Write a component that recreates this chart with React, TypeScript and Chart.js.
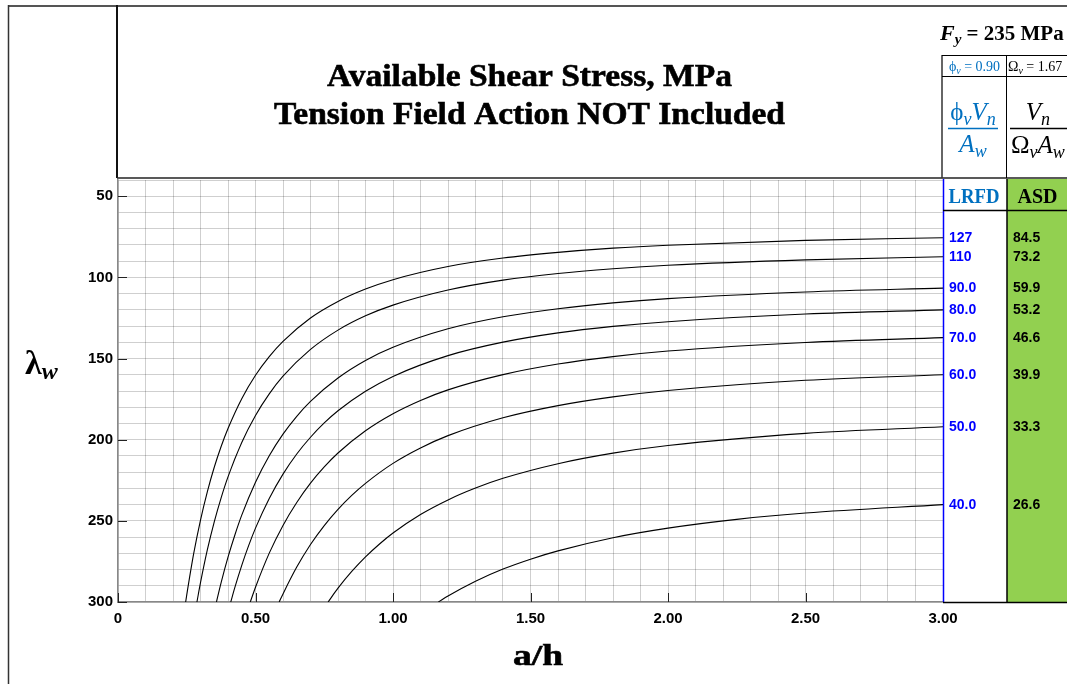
import React, { useEffect, useRef } from 'react';
import { Chart, registerables } from 'chart.js';

Chart.register(...registerables);

// ---- Data (a/h vs web slenderness λw) ----
const ratio127 = [0.246, 0.25, 0.275, 0.3, 0.325, 0.35, 0.375, 0.4, 0.45, 0.5, 0.55, 0.6, 0.7, 0.8, 0.9, 1.0, 1.2, 1.4, 1.6, 1.8, 2.0, 2.5, 3.0];
const lambda127 = [300, 295.6, 270.4, 249.5, 232.0, 217.0, 204.2, 193.1, 174.7, 160.3, 148.8, 139.4, 125.0, 114.8, 107.2, 101.4, 93.3, 88.1, 84.6, 82.0, 80.2, 77.2, 75.6];

const ratio110 = [0.287, 0.3, 0.325, 0.35, 0.375, 0.4, 0.45, 0.5, 0.55, 0.6, 0.7, 0.8, 0.9, 1.0, 1.2, 1.4, 1.6, 1.8, 2.0, 2.5, 3.0];
const lambda110 = [300, 288.1, 267.8, 250.6, 235.8, 222.9, 201.7, 185.1, 171.8, 160.9, 144.4, 132.5, 123.7, 117.1, 107.8, 101.7, 97.6, 94.7, 92.5, 89.2, 87.3];

const ratio90 = [0.358, 0.375, 0.4, 0.425, 0.45, 0.5, 0.55, 0.6, 0.65, 0.7, 0.8, 0.9, 1.0, 1.2, 1.4, 1.6, 1.8, 2.0, 2.5, 3.0];
const lambda90 = [300, 288.1, 272.4, 258.7, 246.5, 226.2, 209.9, 196.6, 185.6, 176.4, 162.0, 151.2, 143.1, 131.7, 124.3, 119.3, 115.7, 113.1, 109.0, 106.6];

const ratio80 = [0.41, 0.425, 0.45, 0.475, 0.5, 0.55, 0.6, 0.65, 0.7, 0.75, 0.8, 0.9, 1.0, 1.2, 1.4, 1.6, 1.8, 2.0, 2.5, 3.0];
const lambda80 = [300, 291.0, 277.4, 265.3, 254.5, 236.2, 221.2, 208.8, 198.5, 189.7, 182.2, 170.2, 161.0, 148.2, 139.9, 134.2, 130.2, 127.3, 122.6, 120.0];

const ratio70 = [0.481, 0.5, 0.55, 0.6, 0.65, 0.7, 0.75, 0.8, 0.9, 1.0, 1.1, 1.2, 1.4, 1.6, 1.8, 2.0, 2.5, 3.0];
const lambda70 = [300, 290.9, 269.9, 252.8, 238.7, 226.8, 216.8, 208.2, 194.5, 184.0, 175.8, 169.3, 159.9, 153.4, 148.8, 145.4, 140.1, 137.1];

const ratio60 = [0.586, 0.6, 0.65, 0.7, 0.75, 0.8, 0.85, 0.9, 1.0, 1.1, 1.2, 1.4, 1.6, 1.8, 2.0, 2.5, 3.0];
const lambda60 = [300, 295.0, 278.5, 264.6, 252.9, 242.9, 234.3, 226.9, 214.6, 205.1, 197.5, 186.5, 179.0, 173.6, 169.7, 163.4, 160.0];

const ratio50 = [0.764, 0.8, 0.85, 0.9, 0.95, 1.0, 1.1, 1.2, 1.3, 1.4, 1.6, 1.8, 2.0, 2.5, 3.0];
const lambda50 = [300, 291.5, 281.2, 272.2, 264.4, 257.5, 246.1, 237.1, 229.8, 223.8, 214.8, 208.3, 203.6, 196.1, 192.0];

const ratio40 = [1.165, 1.2, 1.3, 1.4, 1.5, 1.6, 1.8, 2.0, 2.25, 2.5, 3.0];
const lambda40 = [300, 296.3, 287.2, 279.7, 273.6, 268.5, 260.4, 254.5, 249.1, 245.2, 240.0];

const curveRatios = [ratio127, ratio110, ratio90, ratio80, ratio70, ratio60, ratio50, ratio40];
const curveLambdas = [lambda127, lambda110, lambda90, lambda80, lambda70, lambda60, lambda50, lambda40];

const lrfdLabels = ['127', '110', '90.0', '80.0', '70.0', '60.0', '50.0', '40.0'];
const asdLabels = ['84.5', '73.2', '59.9', '53.2', '46.6', '39.9', '33.3', '26.6'];

const xMin = 0;
const xMax = 3;
const xStep = 0.1;
const yMin = 40;
const yMax = 300;
const yStep = 10;

const titleLine1 = 'Available Shear Stress, MPa';
const titleLine2 = 'Tension Field Action NOT Included';

// ---- Styles ----
const SERIF = '"Liberation Serif", "DejaVu Serif", serif';
const SANS = '"Liberation Sans", Arial, sans-serif';
const GRID = 'rgba(0,0,0,0.19)';
const BLUE_HDR = '#0070C0';
const BLUE_VAL = '#0000FF';
const GREEN = '#92D050';

type Run = { t: string; f: string; dy?: number };

function runsWidth(ctx: CanvasRenderingContext2D, runs: Run[]) {
  let w = 0;
  for (const r of runs) {
    ctx.font = r.f;
    w += ctx.measureText(r.t).width;
  }
  return w;
}

function drawRuns(ctx: CanvasRenderingContext2D, runs: Run[], x: number, y: number, color: string) {
  ctx.fillStyle = color;
  ctx.textAlign = 'left';
  ctx.textBaseline = 'alphabetic';
  let cx = x;
  for (const r of runs) {
    ctx.font = r.f;
    ctx.fillText(r.t, cx, y + (r.dy || 0));
    cx += ctx.measureText(r.t).width;
  }
}

function drawRunsCentered(ctx: CanvasRenderingContext2D, runs: Run[], cx: number, y: number, color: string) {
  const w = runsWidth(ctx, runs);
  drawRuns(ctx, runs, cx - w / 2, y, color);
}

function fitText(ctx: CanvasRenderingContext2D, text: string, font: string, cx: number, y: number, targetW: number) {
  ctx.font = font;
  const w = ctx.measureText(text).width;
  const sx = targetW / w;
  ctx.save();
  ctx.translate(cx, y);
  ctx.scale(sx, 1);
  ctx.textAlign = 'center';
  ctx.textBaseline = 'alphabetic';
  ctx.fillStyle = '#000';
  ctx.fillText(text, 0, 0);
  ctx.lineWidth = 0.6;
  ctx.strokeStyle = '#000';
  ctx.strokeText(text, 0, 0);
  ctx.restore();
}

function line(ctx: CanvasRenderingContext2D, x1: number, y1: number, x2: number, y2: number, color: string, w: number) {
  ctx.beginPath();
  ctx.strokeStyle = color;
  ctx.lineWidth = w;
  ctx.moveTo(x1, y1);
  ctx.lineTo(x2, y2);
  ctx.stroke();
}

const decorPlugin = {
  id: 'decor',
  afterDraw(chart: any) {
    const ctx: CanvasRenderingContext2D = chart.ctx;
    const xs = chart.scales.x;
    const ys = chart.scales.y;
    const area = chart.chartArea;
    const W = chart.width;
    ctx.save();

    // inward tick marks at labelled values
    for (const t of ys.ticks) {
      if (Math.abs(t.value % 50) < 1e-6) {
        const py = Math.round(ys.getPixelForValue(t.value)) + 0.5;
        line(ctx, area.left, py, area.left + 9, py, '#222', 1);
      }
    }
    for (const t of xs.ticks) {
      const v = Math.round(t.value * 100) / 100;
      if (Math.abs(v * 2 - Math.round(v * 2)) < 1e-6) {
        const px = Math.round(xs.getPixelForValue(t.value)) + 0.5;
        line(ctx, px, area.bottom, px, area.bottom - 9, '#222', 1);
      }
    }

    // outer frame
    line(ctx, 8, 6, W, 6, '#555', 2);
    line(ctx, 8.5, 5, 8.5, chart.height, '#333', 1.5);
    // title box
    line(ctx, 117, 5, 117, 178, '#111', 2);
    line(ctx, 117, 178, W, 178, '#222', 1.5);
    line(ctx, 942, 55, 942, 178, '#333', 1.5);

    // title
    fitText(ctx, titleLine1, `bold 32px ${SERIF}`, 529.5, 86, 405);
    fitText(ctx, titleLine2, `bold 32px ${SERIF}`, 529.5, 124, 511);

    // Fy line
    drawRuns(ctx, [
      { t: 'F', f: `italic bold 22px ${SERIF}` },
      { t: 'y', f: `italic bold 15px ${SERIF}`, dy: 4 },
      { t: ' = 235 MPa', f: `bold 21px ${SERIF}` },
    ], 940, 40, '#000');

    // table top rows
    line(ctx, 942, 55.5, W, 55.5, '#000', 1);
    line(ctx, 942, 76.5, W, 76.5, '#000', 1);
    line(ctx, 1006.5, 55, 1006.5, 178, '#000', 1);

    drawRunsCentered(ctx, [
      { t: 'ϕ', f: `14px ${SERIF}` },
      { t: 'v', f: `italic 10px ${SERIF}`, dy: 3 },
      { t: ' = 0.90', f: `14px ${SERIF}` },
    ], 974.5, 71, BLUE_HDR);
    drawRuns(ctx, [
      { t: 'Ω', f: `14px ${SERIF}` },
      { t: 'v', f: `italic 10px ${SERIF}`, dy: 3 },
      { t: ' = 1.67', f: `14px ${SERIF}` },
    ], 1008, 71, '#000');

    // LRFD fraction
    drawRunsCentered(ctx, [
      { t: 'ϕ', f: `25px ${SERIF}` },
      { t: 'v', f: `italic 18px ${SERIF}`, dy: 5 },
      { t: 'V', f: `italic 25px ${SERIF}` },
      { t: 'n', f: `italic 18px ${SERIF}`, dy: 5 },
    ], 973, 120, BLUE_HDR);
    line(ctx, 948, 128.5, 998, 128.5, BLUE_HDR, 1.5);
    drawRunsCentered(ctx, [
      { t: 'A', f: `italic 25px ${SERIF}` },
      { t: 'w', f: `italic 18px ${SERIF}`, dy: 5 },
    ], 973, 152, BLUE_HDR);

    // ASD fraction
    const asdDen: Run[] = [
      { t: 'Ω', f: `25px ${SERIF}` },
      { t: 'v', f: `italic 18px ${SERIF}`, dy: 5 },
      { t: 'A', f: `italic 25px ${SERIF}` },
      { t: 'w', f: `italic 18px ${SERIF}`, dy: 5 },
    ];
    const dw = runsWidth(ctx, asdDen);
    drawRuns(ctx, asdDen, 1011, 153, '#000');
    drawRunsCentered(ctx, [
      { t: 'V', f: `italic 25px ${SERIF}` },
      { t: 'n', f: `italic 18px ${SERIF}`, dy: 5 },
    ], 1011 + dw / 2, 120, '#000');
    line(ctx, 1010, 128.5, W, 128.5, '#000', 1.5);

    // LRFD / ASD column
    ctx.fillStyle = GREEN;
    ctx.fillRect(1007, 179, W - 1007, area.bottom - 179);
    line(ctx, 943.5, 179, 943.5, area.bottom, '#0000FF', 1.5);
    line(ctx, 1007, 179, 1007, area.bottom, '#000', 1.5);
    line(ctx, 943, 210.5, W, 210.5, '#000', 1.5);
    line(ctx, 943, area.bottom + 0.5, W, area.bottom + 0.5, '#000', 1.5);

    ctx.textAlign = 'center';
    ctx.textBaseline = 'alphabetic';
    ctx.font = `bold 21px ${SERIF}`;
    ctx.fillStyle = BLUE_HDR;
    ctx.fillText('LRFD', 974, 203, 51);
    ctx.fillStyle = '#000';
    ctx.fillText('ASD', 1037.5, 203, 40);

    ctx.textAlign = 'left';
    ctx.textBaseline = 'middle';
    ctx.font = `bold 14px ${SANS}`;
    curveLambdas.forEach((lam, i) => {
      const py = ys.getPixelForValue(lam[lam.length - 1]);
      ctx.fillStyle = BLUE_VAL;
      ctx.fillText(lrfdLabels[i], 949, py + 0.5);
      ctx.fillStyle = '#000';
      ctx.fillText(asdLabels[i], 1013, py + 0.5);
    });

    // axis titles
    drawRuns(ctx, [
      { t: 'λ', f: `bold 34px ${SERIF}` },
      { t: 'w', f: `italic bold 24px ${SERIF}`, dy: 5 },
    ], 25, 374, '#000');
    fitText(ctx, 'a/h', `bold 30px ${SERIF}`, 538, 665, 50);

    ctx.restore();
  },
};

export default function App() {
  const canvasRef = useRef<HTMLCanvasElement | null>(null);

  useEffect(() => {
    if (!canvasRef.current) return;
    const datasets = curveRatios.map((rs, i) => ({
      label: lrfdLabels[i],
      data: rs.map((x, j) => ({ x, y: curveLambdas[i][j] })),
      borderColor: '#000',
      borderWidth: 1.1,
      pointRadius: 0,
      fill: false,
      cubicInterpolationMode: 'monotone' as const,
    }));

    const chart = new Chart(canvasRef.current, {
      type: 'line',
      data: { datasets },
      plugins: [decorPlugin],
      options: {
        responsive: false,
        animation: false,
        events: [],
        layout: { padding: { left: 0, top: 180, right: 124, bottom: 0 } },
        plugins: { legend: { display: false }, tooltip: { enabled: false } },
        scales: {
          x: {
            type: 'linear',
            min: xMin,
            max: xMax,
            ticks: {
              stepSize: xStep,
              autoSkip: false,
              maxRotation: 0,
              padding: 8,
              color: '#000',
              font: { family: SANS, size: 15, weight: 'bold' },
              callback: (value: any) => {
                const v = Math.round(Number(value) * 100) / 100;
                if (Math.abs(v * 2 - Math.round(v * 2)) < 1e-6) return v === 0 ? '0' : v.toFixed(2);
                return '';
              },
            },
            grid: { color: GRID, drawTicks: false, lineWidth: 1 },
            border: { color: '#888', width: 1.5 },
            afterFit: (s: any) => { s.height = 82; },
          },
          y: {
            type: 'linear',
            reverse: true,
            min: yMin,
            max: yMax,
            ticks: {
              stepSize: yStep,
              autoSkip: false,
              padding: 5,
              color: '#000',
              font: { family: SANS, size: 15, weight: 'bold' },
              callback: (value: any) => {
                const v = Math.round(Number(value));
                return v % 50 === 0 ? String(v) : '';
              },
            },
            grid: { color: GRID, drawTicks: false, lineWidth: 1 },
            border: { color: '#888', width: 1.5 },
            afterFit: (s: any) => { s.width = 118; },
          },
        },
      } as any,
    });
    return () => chart.destroy();
  }, []);

  return (
    <div style={{ position: 'absolute', left: 0, top: 0, width: 1067, height: 684 }}>
      <canvas ref={canvasRef} width={1067} height={684} style={{ display: 'block' }} />
    </div>
  );
}
